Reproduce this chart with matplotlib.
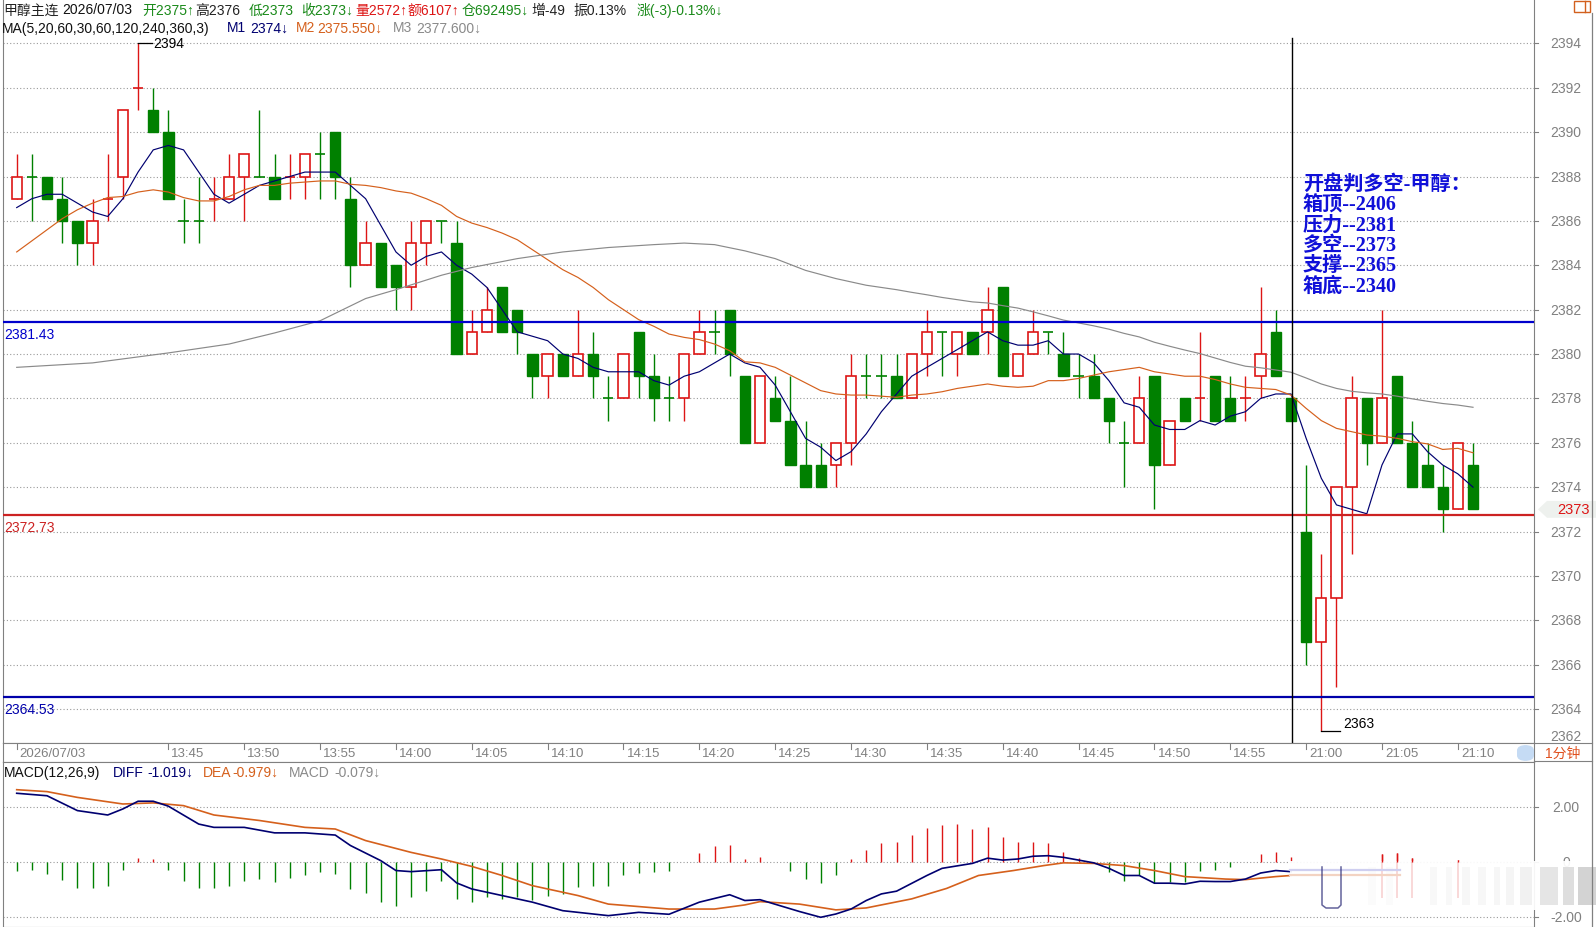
import numpy as np
import matplotlib
matplotlib.use('Agg')
import matplotlib.pyplot as plt
from matplotlib.patches import Rectangle, Polygon, FancyBboxPatch
from matplotlib.lines import Line2D
from matplotlib.transforms import blended_transform_factory as blend

W, H = 1596, 928
RED = '#dd1515'
GREEN = '#008000'
NAVY = '#000070'
ORANGE = '#d5601c'
GRAY = '#8a8a8a'
AXC = '#808080'

# 1-minute bars, 13:35 .. 14:59 then night session 21:00 ..
opens = [2387, 2388, 2388, 2387, 2386, 2385, 2387, 2388, 2392, 2391,
         2390, 2386, 2386, 2387, 2387, 2388, 2388, 2388, 2388, 2388,
         2389, 2390, 2387, 2384, 2385, 2384, 2383, 2385, 2386, 2385,
         2380, 2381, 2383, 2382, 2380, 2379, 2380, 2379, 2380, 2378,
         2378, 2381, 2379, 2378, 2378, 2380, 2381, 2382, 2379, 2376,
         2378, 2377, 2375, 2375, 2375, 2376, 2379, 2379, 2379, 2378,
         2380, 2381, 2380, 2381, 2381, 2383, 2379, 2380, 2381, 2380,
         2379, 2379, 2378, 2376, 2376, 2379, 2375, 2378, 2378, 2379,
         2378, 2378, 2379, 2381, 2378, 2372, 2367, 2369, 2374, 2378,
         2376, 2379, 2376, 2375, 2374, 2373, 2375]
highs = [2389, 2389, 2388, 2388, 2386, 2387, 2389, 2391, 2394, 2392,
         2391, 2387, 2388, 2388, 2389, 2389, 2391, 2389, 2389, 2389,
         2390, 2390, 2388, 2386, 2385, 2384, 2386, 2386, 2386, 2386,
         2382, 2383, 2383, 2382, 2380, 2380, 2380, 2382, 2381, 2379,
         2380, 2381, 2380, 2379, 2380, 2382, 2382, 2382, 2379, 2379,
         2379, 2379, 2377, 2376, 2376, 2380, 2380, 2380, 2380, 2380,
         2382, 2381, 2381, 2381, 2383, 2383, 2380, 2382, 2381, 2381,
         2380, 2380, 2378, 2377, 2379, 2379, 2377, 2378, 2381, 2379,
         2379, 2379, 2383, 2382, 2378, 2375, 2371, 2374, 2379, 2378,
         2382, 2379, 2377, 2376, 2375, 2376, 2376]
lows = [2387, 2386, 2387, 2385, 2384, 2384, 2386, 2387, 2391, 2390,
        2387, 2385, 2385, 2386, 2387, 2386, 2388, 2387, 2387, 2387,
        2387, 2387, 2383, 2384, 2383, 2382, 2382, 2384, 2385, 2380,
        2380, 2381, 2381, 2380, 2378, 2378, 2379, 2379, 2378, 2377,
        2378, 2378, 2377, 2377, 2377, 2380, 2380, 2379, 2376, 2376,
        2377, 2375, 2374, 2374, 2374, 2375, 2378, 2378, 2378, 2378,
        2379, 2379, 2379, 2380, 2380, 2379, 2379, 2380, 2380, 2379,
        2378, 2378, 2376, 2374, 2376, 2373, 2375, 2377, 2377, 2377,
        2377, 2377, 2378, 2379, 2377, 2366, 2363, 2365, 2371, 2375,
        2376, 2376, 2374, 2374, 2372, 2373, 2373]
closes = [2388, 2388, 2387, 2386, 2385, 2386, 2387, 2391, 2392, 2390,
          2387, 2386, 2386, 2387, 2388, 2389, 2388, 2387, 2388, 2389,
          2389, 2388, 2384, 2385, 2383, 2383, 2385, 2386, 2386, 2380,
          2381, 2382, 2381, 2381, 2379, 2380, 2379, 2380, 2379, 2378,
          2380, 2379, 2378, 2378, 2380, 2381, 2381, 2380, 2376, 2379,
          2377, 2375, 2374, 2374, 2376, 2379, 2379, 2379, 2378, 2380,
          2381, 2381, 2381, 2380, 2382, 2379, 2380, 2381, 2381, 2379,
          2379, 2378, 2377, 2376, 2378, 2375, 2377, 2377, 2378, 2377,
          2377, 2378, 2380, 2379, 2377, 2367, 2369, 2374, 2378, 2376,
          2378, 2376, 2374, 2374, 2373, 2376, 2373]

ma5 = [2386.6, 2387.0, 2387.2, 2387.2, 2386.8, 2386.4, 2386.2, 2387.0, 2388.2, 2389.2,
       2389.4, 2389.2, 2388.2, 2387.2, 2386.8, 2387.2, 2387.6, 2387.8, 2388.0, 2388.2,
       2388.2, 2388.2, 2387.6, 2387.0, 2385.8, 2384.6, 2384.0, 2384.4, 2384.6, 2384.0,
       2383.6, 2383.0, 2382.0, 2381.0, 2380.8, 2380.6, 2380.0, 2379.8, 2379.4, 2379.2,
       2379.2, 2379.2, 2378.8, 2378.6, 2379.0, 2379.2, 2379.6, 2380.0, 2379.6, 2379.4,
       2378.6, 2377.4, 2376.2, 2375.8, 2375.2, 2375.6, 2376.4, 2377.4, 2378.2, 2379.0,
       2379.4, 2379.8, 2380.2, 2380.6, 2381.0, 2380.6, 2380.4, 2380.4, 2380.6, 2380.0,
       2380.0, 2379.6, 2378.8, 2377.8, 2377.6, 2376.8, 2376.6, 2376.6, 2377.0, 2376.8,
       2377.2, 2377.4, 2378.0, 2378.2, 2378.2, 2376.2, 2374.4, 2373.2, 2373.0, 2372.8,
       2375.0, 2376.4, 2376.4, 2375.6, 2375.0, 2374.6, 2374.0]
ma20 = [2384.6, 2385.1, 2385.6, 2386.1, 2386.5, 2386.8, 2387.05, 2387.1, 2387.3, 2387.4,
        2387.3, 2387.05, 2386.9, 2386.9, 2387.1, 2387.4, 2387.6, 2387.6, 2387.7, 2387.75,
        2387.8, 2387.8, 2387.65, 2387.6, 2387.5, 2387.35, 2387.25, 2387.0, 2386.7, 2386.2,
        2385.9, 2385.7, 2385.45, 2385.15, 2384.7, 2384.25, 2383.8, 2383.45, 2383.0, 2382.45,
        2382.0, 2381.55, 2381.25, 2380.9, 2380.75, 2380.65, 2380.45, 2380.15, 2379.65, 2379.6,
        2379.4, 2379.05, 2378.7, 2378.35, 2378.2, 2378.15, 2378.15, 2378.1, 2378.05, 2378.15,
        2378.2, 2378.3, 2378.45, 2378.55, 2378.65, 2378.55, 2378.5, 2378.55, 2378.8, 2378.8,
        2378.9, 2379.05, 2379.2, 2379.3, 2379.4, 2379.2, 2379.1, 2379.0, 2379.0, 2378.85,
        2378.65, 2378.5, 2378.45, 2378.4, 2378.15, 2377.55, 2377.0, 2376.65, 2376.5, 2376.35,
        2376.3, 2376.2, 2376.05, 2375.95, 2375.7, 2375.75, 2375.55]
ma60_x = [0, 5, 10, 14, 17, 20, 23, 25, 28, 30, 33, 36, 39, 42, 44, 46, 48, 50, 52, 54, 56, 58,
          59, 60, 61, 62, 63, 64, 65, 66, 67, 68, 69, 70, 71, 72, 73, 74, 75, 76, 77, 78,
          79, 80, 81, 82, 83, 84, 85, 86, 87, 88, 89, 90, 91, 92, 93, 94, 95, 96]
ma60 = [2379.4, 2379.6, 2380.05, 2380.45, 2380.95, 2381.5, 2382.5, 2382.9, 2383.55, 2383.9,
        2384.3, 2384.6, 2384.8, 2384.93, 2385.0, 2384.93, 2384.65, 2384.3, 2383.77, 2383.4,
        2383.1, 2382.9,
        2382.78, 2382.67, 2382.55, 2382.45, 2382.35, 2382.3, 2382.18, 2382.07, 2381.9, 2381.72,
        2381.53, 2381.4, 2381.27, 2381.12, 2380.93, 2380.77, 2380.53, 2380.35, 2380.18, 2380.02,
        2379.82, 2379.62, 2379.45, 2379.38, 2379.28, 2379.18, 2378.92, 2378.65, 2378.45, 2378.32,
        2378.25, 2378.2, 2378.1, 2377.98, 2377.87, 2377.77, 2377.7, 2377.6]

# MACD panel
diff_x = [0, 2, 4, 6, 7, 8, 9, 10, 12, 13, 15, 17, 19, 21, 22, 24, 25, 26, 28, 29, 30, 32, 34,
          36, 39, 41, 43, 45, 47, 48, 49, 51.6, 53, 54, 55, 56, 57, 58, 60, 61, 63, 64, 65,
          66, 67, 68, 69, 70, 71, 72, 73, 74, 75, 76, 77, 78, 79, 80, 81, 82, 83, 84]
diff = [2.51, 2.42, 1.88, 1.72, 1.94, 2.22, 2.22, 2.04, 1.39, 1.27, 1.27, 1.07, 1.07, 0.99,
        0.61, 0.06, -0.30, -0.34, -0.27, -0.75, -0.97, -1.21, -1.45, -1.76, -1.94, -1.82,
        -1.89, -1.45, -1.18, -1.39, -1.36, -1.79, -2.0, -1.88, -1.70, -1.39, -1.15, -1.05,
        -0.48, -0.22, -0.04, 0.15, 0.08, 0.12, 0.22, 0.24, 0.18, 0.08, -0.02, -0.22, -0.48,
        -0.48, -0.76, -0.76, -0.79, -0.69, -0.70, -0.70, -0.61, -0.39, -0.30, -0.34]
dea_x = [0, 2, 4, 7, 9, 11, 13, 16, 19, 21, 23, 26, 28, 30, 32, 34, 37, 39, 43, 46, 48, 49,
         51.6, 54, 56, 59, 61.3, 63.4, 65.7, 67.7, 69, 71, 73, 75, 77, 79.7, 81, 83, 84]
dea = [2.64, 2.57, 2.36, 2.12, 2.16, 2.06, 1.72, 1.52, 1.27, 1.21, 0.79, 0.36, 0.12, -0.15,
       -0.48, -0.85, -1.21, -1.52, -1.70, -1.70, -1.55, -1.43, -1.52, -1.73, -1.66, -1.33,
       -0.95, -0.48, -0.30, -0.12, -0.02, -0.04, -0.12, -0.30, -0.52, -0.61, -0.63, -0.52, -0.48]
macd_hist = [-0.30, -0.27, -0.42, -0.63, -0.93, -0.95, -0.85, -0.27, 0.16, 0.12,
             -0.27, -0.67, -0.95, -0.95, -0.85, -0.67, -0.61, -0.70, -0.58, -0.45,
             -0.34, -0.42, -0.97, -1.12, -1.45, -1.60, -1.27, -1.03, -0.67, -1.33,
             -1.45, -1.27, -1.33, -1.27, -1.36, -1.21, -1.15, -0.91, -0.85, -0.85,
             -0.48, -0.39, -0.36, -0.30, 0.0, 0.34, 0.61, 0.63, 0.12, 0.21,
             0.0, -0.30, -0.61, -0.75, -0.48, 0.12, 0.46, 0.70, 0.75, 0.99,
             1.25, 1.37, 1.39, 1.21, 1.30, 0.93, 0.75, 0.75, 0.70, 0.36,
             0.16, 0.0, -0.36, -0.67, -0.48, -0.75, -0.73, -0.70, -0.30, -0.27,
             -0.18, 0.0, 0.30, 0.39, 0.21, np.nan, np.nan, np.nan, np.nan, np.nan,
             0.30, 0.35, 0.14, np.nan, np.nan, 0.08, np.nan]

tick_idx = [0, 10, 15, 20, 25, 30, 35, 40, 45, 50, 55, 60, 65, 70, 75, 80, 85, 90, 95]
tick_lbl = ['2026/07/03', '13:45', '13:50', '13:55', '14:00', '14:05', '14:10', '14:15',
            '14:20', '14:25', '14:30', '14:35', '14:40', '14:45', '14:50', '14:55',
            '21:00', '21:05', '21:10']
levels = [2381.43, 2372.73, 2364.53]
level_colors = ['#0000cc', '#cc2222', '#0000aa']
plan = ['开盘判多空-甲醇：', '箱顶--2406', '压力--2381', '多空--2373', '支撑--2365', '箱底--2340']
session_break = 84

plt.rcParams['font.family'] = ['Liberation Sans', 'Noto Sans CJK SC', 'DejaVu Sans']

fig = plt.figure(figsize=(W / 100, H / 100), dpi=100)


def px(l, t, r, b):
    return [l / W, 1 - b / H, (r - l) / W, (b - t) / H]


def ftext(x, y, s, **kw):
    kw.setdefault('va', 'center')
    kw.setdefault('fontsize', 10)
    fig.text(x / W, 1 - y / H, s, **kw)


def fline(xs, ys, **kw):
    fig.add_artist(Line2D([v / W for v in xs], [1 - v / H for v in ys],
                          transform=fig.transFigure, **kw))


def frect(l, t, r, b, **kw):
    fig.add_artist(Rectangle((l / W, 1 - b / H), (r - l) / W, (b - t) / H,
                             transform=fig.transFigure, **kw))


XL = (-0.903, 100.02)
n = len(closes)
xs = np.arange(n)

# ---------- price panel ----------
ax = fig.add_axes(px(3, 0, 1534, 744))
ax.set_xlim(*XL)
ax.set_ylim(2362.47, 2396.0)
ax.set_xticks([])
ax.set_yticks([])
for s in ['left', 'right', 'bottom']:
    ax.spines[s].set_color(AXC)
ax.spines['top'].set_visible(False)

for p in range(2364, 2395, 2):
    ax.axhline(p, color='#9a9a9a', lw=0.8, ls=(0, (1, 2)), zorder=0)

bw = 0.68
for i in xs:
    o, h, l, c = opens[i], highs[i], lows[i], closes[i]
    if c > o:
        col = RED
    elif c < o:
        col = GREEN
    else:
        col = RED if i > 0 and c > closes[i - 1] else GREEN
    ax.vlines(i, l, h, color=col, lw=1.0, zorder=3)
    if c > o:
        ax.add_patch(Rectangle((i - bw / 2, o), bw, c - o, facecolor='white',
                               edgecolor=col, lw=1.2, zorder=4))
    elif c < o:
        ax.add_patch(Rectangle((i - bw / 2, c), bw, o - c, facecolor=col,
                               edgecolor=col, lw=1.0, zorder=4))
    else:
        ax.hlines(c, i - bw / 2, i + bw / 2, color=col, lw=1.2, zorder=4)

ax.plot(xs, ma5, color=NAVY, lw=0.85, zorder=5)
ax.plot(xs, ma20, color=ORANGE, lw=0.85, zorder=5)
ax.plot(ma60_x, ma60, color=GRAY, lw=0.85, zorder=5)

tl = blend(ax.transAxes, ax.transData)
for v, c in zip(levels, level_colors):
    ax.axhline(v, color=c, lw=1.6, zorder=6)
    ax.text(0.001, v - 0.2, f'{v:.2f}', transform=tl, color=c, fontsize=10,
            va='top', ha='left')

ax.plot([session_break + 0.1] * 2, [2362.47, 2394.25], color='black', lw=1.0, zorder=6)

hi_i = int(np.argmax(highs))
lo_i = int(np.argmin(lows))
ax.plot([hi_i, hi_i + 0.95], [highs[hi_i], highs[hi_i]], color='black', lw=0.9, zorder=6)
ax.text(hi_i + 1.0, highs[hi_i], str(highs[hi_i]), fontsize=10, va='center', ha='left')
ax.plot([lo_i, lo_i + 1.2], [lows[lo_i], lows[lo_i]], color='black', lw=0.9, zorder=6)
ax.text(lo_i + 1.45, lows[lo_i] + 0.05, str(lows[lo_i]), fontsize=10, va='bottom', ha='left')

# right price scale
tp = blend(fig.transFigure, ax.transData)
for p in range(2364, 2395, 2):
    ax.plot([1534 / W, 1538 / W], [p, p], transform=tp, clip_on=False, color=AXC, lw=0.8)
    ax.text(1550 / W, p, str(p), transform=tp, fontsize=10, color=AXC, va='center', ha='left')
ftext(1550, 737, '2362', color=AXC)

# last price tag
last = closes[-1]
ax.add_patch(Polygon([(1538 / W, last), (1547 / W, last + 0.38), (1596 / W, last + 0.38),
                      (1596 / W, last - 0.38), (1547 / W, last - 0.38)],
                     closed=True, transform=tp, facecolor='#eef1ee', edgecolor='none',
                     clip_on=False))
ax.text(1557 / W, last, str(last), transform=tp, color=RED, fontsize=10.5, va='center')

# plan text
for k, s in enumerate(plan):
    ftext(1303, 185 + k * 20.3, s, color='#1010d8', fontsize=14.5, fontweight='bold',
          family=['Liberation Serif', 'Noto Sans CJK SC'])

# header lines
head1 = [(3, '甲醇主连', '#222222'), (62, '2026/07/03', '#111111'), (142, '开2375↑', '#1a8a1a'),
         (195, '高2376', '#222222'), (249, '低2373', '#1a8a1a'), (301, '收2373↓', '#1a8a1a'),
         (355, '量2572↑', RED), (407, '额6107↑', RED), (462, '仓692495↓', '#1a8a1a'),
         (531, '增-49', '#222222'), (573, '振0.13%', '#222222'), (637, '涨(-3)-0.13%↓', '#1a8a1a')]
for x0, s, c in head1:
    ftext(x0, 10.5, s, color=c)
head2 = [(2, 'MA(5,20,60,30,60,120,240,360,3)', '#111111'), (227, 'M1', NAVY),
         (250, '2374↓', NAVY), (296, 'M2', ORANGE), (317, '2375.550↓', ORANGE),
         (393, 'M3', GRAY), (416, '2377.600↓', GRAY)]
for x0, s, c in head2:
    ftext(x0, 28.5, s, color=c)

# ---------- time strip ----------
axt = fig.add_axes(px(3, 744, 1534, 763))
axt.set_xlim(*XL)
axt.set_ylim(0, 1)
axt.set_xticks([])
axt.set_yticks([])
for s in axt.spines.values():
    s.set_color(AXC)
for t, lb in zip(tick_idx, tick_lbl):
    axt.plot([t, t], [0.7, 1.0], color=AXC, lw=0.8)
    axt.text(t + 0.2, 0.45, lb, fontsize=9.5, color=AXC, va='center', ha='left')

fig.add_artist(FancyBboxPatch((1517 / W, 1 - 762 / H), 17 / W, 16 / H,
                              boxstyle='round,pad=0,rounding_size=0.006',
                              transform=fig.transFigure, facecolor='#c5dbf4',
                              edgecolor='none'))
ftext(1545, 753.5, '1分钟', color='#e0501e', fontsize=10)
fline([1534, 1592], [744, 744], color=AXC, lw=0.8)
fline([1534, 1592], [762, 762], color=AXC, lw=0.8)

# ---------- MACD panel ----------
axm = fig.add_axes(px(3, 763, 1534, 928))
axm.set_xlim(*XL)
axm.set_ylim(-2.353, 3.647)
axm.set_xticks([])
axm.set_yticks([])
for s in axm.spines.values():
    s.set_color(AXC)
for v in (2, 0, -2):
    axm.axhline(v, color='#9a9a9a', lw=0.8, ls=(0, (1, 2)), zorder=0)
for i, v in enumerate(macd_hist):
    if np.isnan(v) or v == 0:
        continue
    axm.vlines(i, 0, v, color=RED if v > 0 else GREEN, lw=1.0, zorder=2)
axm.plot(dea_x, dea, color=ORANGE, lw=1.2, zorder=3)
axm.plot(diff_x, diff, color=NAVY, lw=1.2, zorder=4)

tm = blend(fig.transFigure, axm.transData)
for v, lb in [(2, '2.00'), (0, '0'), (-2, '-2.00')]:
    axm.plot([1534 / W, 1538 / W], [v, v], transform=tm, clip_on=False, color=AXC, lw=0.8)
    axm.text(1566 / W, v, lb, transform=tm, fontsize=10, color=AXC, va='center', ha='center')

head3 = [(4, 'MACD(12,26,9)', '#111111'), (113, 'DIFF', NAVY), (147, '-1.019↓', NAVY),
         (203, 'DEA', ORANGE), (232, '-0.979↓', ORANGE), (289, 'MACD', GRAY),
         (334, '-0.079↓', GRAY)]
for x0, s, c in head3:
    ftext(x0, 773, s, color=c)

# washed-out overlay over the night part of the MACD panel
axm.add_patch(Rectangle((1290 / W, 1 - 911 / H), 306 / W, 49 / H, transform=fig.transFigure,
                        facecolor='white', edgecolor='none', alpha=0.93, zorder=5,
                        clip_on=False))
for i, v in enumerate(macd_hist):
    if i > session_break and not np.isnan(v):
        axm.vlines(i, -1.3, 0, color='#f4b4b4', lw=1.2, alpha=0.6, zorder=6)
        axm.vlines(i, 0, v, color=RED, lw=1.0, zorder=6)
fline([1290, 1400], [871, 871], color='#cfcff0', lw=1.6)
fline([1290, 1400], [876, 876], color='#f3d3c2', lw=1.6)
for x0, x1, a in [(1368, 1376, 0.03), (1386, 1393, 0.03), (1430, 1437, 0.05), (1446, 1452, 0.05),
                  (1462, 1470, 0.06), (1478, 1486, 0.06), (1494, 1500, 0.07), (1506, 1514, 0.08),
                  (1520, 1532, 0.11), (1540, 1558, 0.2), (1563, 1574, 0.26), (1578, 1596, 0.34)]:
    frect(x0, 868, x1, 906, facecolor='#808080', edgecolor='none', alpha=a)
fline([1322, 1322, 1326, 1338, 1341, 1341], [868, 906, 909, 909, 906, 868],
      color='#30307a', lw=1.1, alpha=0.75)

# frame pieces on the right
fline([1592, 1592], [14, 928], color=AXC, lw=0.9)
frect(1574, 2, 1590, 13, facecolor='none', edgecolor='#d2601e', lw=1.0)
fline([1585, 1585], [2, 13], color='#d2601e', lw=1.0)

fig.savefig('out.png', dpi=100)
